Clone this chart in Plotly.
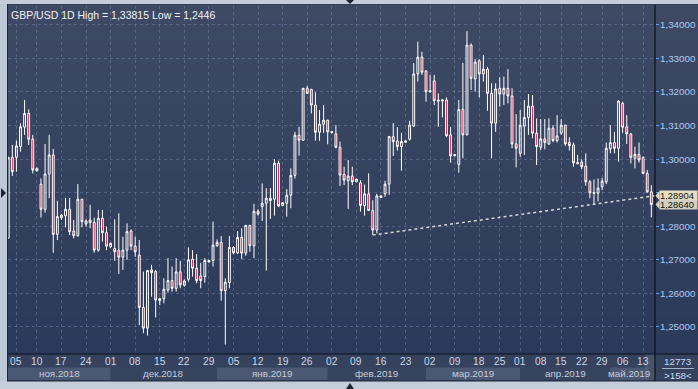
import plotly.graph_objects as go

# ---------------- data ----------------
opens = [1.2764, 1.3005, 1.3005, 1.3037, 1.3095, 1.3136, 1.3059, 1.2965, 1.2925, 1.2850,
         1.2955, 1.3012, 1.2775, 1.2825, 1.2830, 1.2850, 1.2785, 1.2771, 1.2880, 1.2806,
         1.2818, 1.2811, 1.2728, 1.2823, 1.2780, 1.2738, 1.2733, 1.2728, 1.2707, 1.2728,
         1.2785, 1.2740, 1.2713, 1.2557, 1.2495, 1.2669, 1.2664, 1.2577, 1.2583, 1.2609,
         1.2637, 1.2614, 1.2663, 1.2623, 1.2641, 1.2701, 1.2674, 1.2651, 1.2649, 1.2697,
         1.2697, 1.2741, 1.2751, 1.2607, 1.2631, 1.2736, 1.2720, 1.2766, 1.2719, 1.2802,
         1.2741, 1.2844, 1.2858, 1.2868, 1.2883, 1.2880, 1.2987, 1.2861, 1.2868, 1.2892,
         1.2951, 1.3071, 1.3056, 1.3211, 1.3208, 1.3161, 1.3080, 1.3104, 1.3116, 1.3082,
         1.3075, 1.3035, 1.2954, 1.2935, 1.2949, 1.2932, 1.2929, 1.2861, 1.2896, 1.2846,
         1.2788, 1.2885, 1.2896, 1.2925, 1.3067, 1.3054, 1.3037, 1.3050, 1.3059, 1.3098,
         1.3254, 1.3304, 1.3263, 1.3200, 1.3233, 1.3176, 1.3173, 1.3176, 1.3072, 1.3010,
         1.2984, 1.3148, 1.3072, 1.3340, 1.3239, 1.3293, 1.3254, 1.3268, 1.3196, 1.3107,
         1.3211, 1.3194, 1.3211, 1.3188, 1.3045, 1.3017, 1.3098, 1.3124, 1.3158, 1.3077,
         1.3035, 1.3060, 1.3045, 1.3092, 1.3055, 1.3077, 1.3101, 1.3049, 1.3042, 1.2986,
         1.2991, 1.2979, 1.2932, 1.2900, 1.2898, 1.2917, 1.2932, 1.3030, 1.3049, 1.3032,
         1.3166, 1.3096, 1.3075, 1.3002, 1.3014, 1.3005, 1.2957, 1.2902]
highs = [1.3007, 1.3042, 1.3055, 1.3107, 1.3176, 1.3148, 1.3072, 1.2975, 1.2942, 1.3045,
         1.3072, 1.3030, 1.2875, 1.2836, 1.2884, 1.2884, 1.2818, 1.2925, 1.2880, 1.2820,
         1.2863, 1.2825, 1.2848, 1.2848, 1.2798, 1.2751, 1.2820, 1.2838, 1.2768, 1.2808,
         1.2790, 1.2768, 1.2758, 1.2664, 1.2669, 1.2684, 1.2669, 1.2586, 1.2644, 1.2704,
         1.2679, 1.2704, 1.2696, 1.2641, 1.2736, 1.2728, 1.2716, 1.2690, 1.2704, 1.2699,
         1.2813, 1.2760, 1.2770, 1.2644, 1.2770, 1.2740, 1.2785, 1.2793, 1.2803, 1.2803,
         1.2866, 1.2850, 1.2927, 1.2913, 1.2913, 1.2999, 1.2995, 1.2871, 1.2910, 1.2972,
         1.3081, 1.3096, 1.3212, 1.3218, 1.3209, 1.3199, 1.3146, 1.3161, 1.3117, 1.3084,
         1.3101, 1.3052, 1.2977, 1.2997, 1.2977, 1.2941, 1.2937, 1.2924, 1.2957, 1.2877,
         1.2896, 1.2891, 1.2935, 1.3069, 1.3107, 1.3095, 1.3078, 1.3055, 1.3114, 1.3286,
         1.3350, 1.3320, 1.3264, 1.3251, 1.3251, 1.3196, 1.3179, 1.3184, 1.3096, 1.3015,
         1.3176, 1.3287, 1.33815, 1.3345, 1.3298, 1.3298, 1.3310, 1.3275, 1.3226, 1.3226,
         1.3244, 1.3246, 1.3268, 1.3211, 1.3134, 1.3146, 1.3176, 1.3194, 1.3191, 1.3121,
         1.3119, 1.3119, 1.3121, 1.3101, 1.3131, 1.3119, 1.3102, 1.3065, 1.3049, 1.3012,
         1.2999, 1.3017, 1.2937, 1.2939, 1.2942, 1.2944, 1.3049, 1.3101, 1.3081, 1.3176,
         1.3171, 1.3131, 1.3077, 1.3037, 1.3049, 1.3007, 1.2967, 1.2922]
lows = [1.2763, 1.2949, 1.2962, 1.3022, 1.3072, 1.3042, 1.2957, 1.2962, 1.2825, 1.2840,
        1.2883, 1.2720, 1.2758, 1.2818, 1.2796, 1.2773, 1.2763, 1.2768, 1.2796, 1.2798,
        1.2793, 1.2720, 1.2723, 1.2753, 1.2728, 1.2735, 1.2696, 1.2657, 1.2669, 1.2699,
        1.2728, 1.2708, 1.2504, 1.2480, 1.2473, 1.2589, 1.2527, 1.2564, 1.2569, 1.2601,
        1.2604, 1.2604, 1.2614, 1.2619, 1.2634, 1.2649, 1.2629, 1.2614, 1.2631, 1.2690,
        1.2679, 1.2738, 1.2577, 1.2446, 1.2614, 1.2716, 1.2716, 1.2701, 1.2711, 1.2723,
        1.2704, 1.2831, 1.2815, 1.2667, 1.2821, 1.2831, 1.2856, 1.2860, 1.2828, 1.2853,
        1.2942, 1.3010, 1.3055, 1.3194, 1.3136, 1.3055, 1.3054, 1.3078, 1.3044, 1.3076,
        1.3032, 1.2920, 1.2922, 1.2851, 1.2922, 1.2931, 1.2843, 1.2831, 1.2845, 1.2773,
        1.2778, 1.2884, 1.2887, 1.2893, 1.3009, 1.3025, 1.2965, 1.3049, 1.3055, 1.3096,
        1.3231, 1.3251, 1.3171, 1.3199, 1.3161, 1.3096, 1.3124, 1.3065, 1.2989, 1.3008,
        1.2959, 1.3002, 1.3071, 1.3206, 1.3201, 1.3184, 1.3231, 1.3144, 1.3002, 1.3081,
        1.3156, 1.3161, 1.3166, 1.3032, 1.2975, 1.3007, 1.3012, 1.3072, 1.3062, 1.2982,
        1.3027, 1.3029, 1.3042, 1.3050, 1.3049, 1.3072, 1.3039, 1.3025, 1.2977, 1.2984,
        1.2970, 1.2920, 1.2883, 1.2866, 1.2873, 1.2907, 1.2925, 1.3017, 1.3017, 1.2992,
        1.3078, 1.3045, 1.2987, 1.2972, 1.2989, 1.2955, 1.2899, 1.2826]
closes = [1.3004, 1.2962, 1.3039, 1.3096, 1.3136, 1.3059, 1.2967, 1.2972, 1.2850, 1.2955,
          1.3012, 1.2775, 1.2828, 1.2833, 1.2850, 1.2783, 1.2771, 1.2880, 1.2813, 1.2815,
          1.2810, 1.2728, 1.2823, 1.2780, 1.2740, 1.2748, 1.2723, 1.2707, 1.2728, 1.2783,
          1.2740, 1.2723, 1.2557, 1.2495, 1.2667, 1.2661, 1.2579, 1.2583, 1.2611, 1.2637,
          1.2614, 1.2663, 1.2624, 1.2636, 1.2699, 1.2674, 1.2637, 1.2637, 1.2697, 1.2693,
          1.2743, 1.2751, 1.2607, 1.2632, 1.2736, 1.2720, 1.2766, 1.2719, 1.2802, 1.2741,
          1.2844, 1.2836, 1.2868, 1.2883, 1.2876, 1.2987, 1.2860, 1.2870, 1.2892, 1.2951,
          1.3071, 1.3056, 1.3211, 1.3196, 1.3161, 1.3080, 1.3104, 1.3116, 1.3081, 1.3079,
          1.3035, 1.2952, 1.2937, 1.2949, 1.2932, 1.2940, 1.2861, 1.2896, 1.2846, 1.2788,
          1.2890, 1.2890, 1.2925, 1.3067, 1.3052, 1.3037, 1.3052, 1.3054, 1.3101, 1.3254,
          1.3304, 1.3259, 1.3201, 1.3204, 1.3174, 1.3173, 1.3176, 1.3069, 1.3009, 1.3013,
          1.3148, 1.3072, 1.3340, 1.3241, 1.3289, 1.3254, 1.3268, 1.3196, 1.3107, 1.3209,
          1.3194, 1.3211, 1.3188, 1.3045, 1.3032, 1.3101, 1.3124, 1.3158, 1.3077, 1.3037,
          1.3060, 1.3049, 1.3092, 1.3055, 1.3069, 1.3101, 1.3045, 1.3040, 1.2989, 1.2989,
          1.2977, 1.2932, 1.2899, 1.2897, 1.2913, 1.2934, 1.3032, 1.3049, 1.3032, 1.3173,
          1.3095, 1.3075, 1.3005, 1.3014, 1.2997, 1.2957, 1.2902, 1.2864]
bar_index = list(range(len(opens)))

price_ticks = [1.25, 1.26, 1.27, 1.28, 1.29, 1.30, 1.31, 1.32, 1.33, 1.34]
price_tick_labels = ["1,25000", "1,26000", "1,27000", "1,28000", "", "1,30000",
                     "1,31000", "1,32000", "1,33000", "1,34000"]

date_tick_idx = [2, 7, 13, 19, 25, 31, 37, 43, 49, 55, 61, 67, 73, 79, 85, 91, 97,
                 103, 109, 115, 120, 125, 130, 135, 140, 145, 150, 155]
date_tick_labels = ["05", "10", "17", "24", "01", "08", "15", "22", "29", "05", "12",
                    "19", "26", "02", "09", "16", "23", "02", "09", "18", "25", "01",
                    "08", "15", "22", "29", "06", "13"]

month_labels = ["ноя.2018", "дек.2018", "янв.2019", "фев.2019", "мар.2019", "апр.2019", "май.2019"]
month_start = [-0.05, 25, 51, 78, 102, 125, 147]
month_end = [25, 51, 78, 102, 125, 147, 156.3]

trend_x = [89, 157.9]
trend_y = [1.2773, 1.28904]
marker_values = [1.28904, 1.2864]
marker_labels = ["1,28904", "1,28640"]

title_text = "GBP/USD 1D High = 1,33815 Low = 1,2446"
info_texts = ["12773", ">158<"]

# ---------------- geometry helpers (layout only) ----------------
W, H = 698, 389
PL, PR, PT, PB = 8, 655, 6, 354          # plot area in pixels
X_RANGE = [-0.05, 157.9]
Y_RANGE = [1.24179, 1.34567]

def px_x(px):
    return (px - PL) / (PR - PL)

def px_y(py):
    return (PB - py) / (PB - PT)

price_per_px = (Y_RANGE[1] - Y_RANGE[0]) / (PB - PT)

FONT = "Liberation Sans, Arial, sans-serif"
FS = 9.8

fig = go.Figure()

fig.add_trace(go.Candlestick(
    x=bar_index, open=opens, high=highs, low=lows, close=closes,
    increasing=dict(line=dict(color="#ffffff", width=1), fillcolor="rgba(0,0,0,0)"),
    decreasing=dict(line=dict(color="#ffffff", width=1), fillcolor="#e0143f"),
    whiskerwidth=0, hoverinfo="skip", showlegend=False,
))

fig.add_trace(go.Scatter(
    x=trend_x, y=trend_y, mode="lines",
    line=dict(color="#d6d6d6", width=1.5, dash="dot"),
    hoverinfo="skip", showlegend=False,
))

shapes = []
# gradient background (plot + right panel)
n_bands = 48
top_c = (62, 74, 100)
bot_c = (43, 58, 90)
for i in range(n_bands):
    t = i / (n_bands - 1)
    c = tuple(int(round(top_c[k] + (bot_c[k] - top_c[k]) * t)) for k in range(3))
    y_hi = 1 - i / n_bands
    y_lo = 1 - (i + 1) / n_bands
    shapes.append(dict(type="rect", xref="paper", yref="paper", x0=0, x1=px_x(W),
                       y0=y_lo - 0.002, y1=y_hi + 0.002, line=dict(width=0),
                       fillcolor="rgb(%d,%d,%d)" % c, layer="below"))
# bottom axis area
shapes.append(dict(type="rect", xref="paper", yref="paper", x0=0, x1=px_x(W),
                   y0=px_y(381), y1=0, line=dict(width=0), fillcolor="#34425e", layer="below"))
# month bands (alternating)
for i, (s, e) in enumerate(zip(month_start, month_end)):
    col = "#4b5874" if i % 2 == 0 else "#36445f"
    shapes.append(dict(type="rect", xref="x", yref="paper", x0=s, x1=e,
                       y0=px_y(380), y1=px_y(367.5), line=dict(width=0),
                       fillcolor=col, layer="below"))
# shaded block at the right end of the date axis
shapes.append(dict(type="rect", xref="paper", yref="paper", x0=px_x(645), x1=px_x(655),
                   y0=px_y(380), y1=0, line=dict(width=0),
                   fillcolor="rgba(90,100,120,0.55)", layer="above"))
# frame: light strips
shapes.append(dict(type="rect", xref="paper", yref="paper", x0=px_x(0), x1=px_x(7),
                   y0=px_y(H), y1=px_y(0), line=dict(width=0), fillcolor="#bdc9d7", layer="above"))
shapes.append(dict(type="rect", xref="paper", yref="paper", x0=px_x(0), x1=px_x(W),
                   y0=px_y(4), y1=px_y(0), line=dict(width=0), fillcolor="#c4cedb", layer="above"))
shapes.append(dict(type="rect", xref="paper", yref="paper", x0=px_x(0), x1=px_x(W),
                   y0=px_y(H), y1=px_y(381), line=dict(width=0), fillcolor="#c4cedb", layer="above"))
# dark frame lines
shapes.append(dict(type="line", xref="paper", yref="paper", x0=px_x(7.5), x1=px_x(7.5),
                   y0=px_y(381), y1=px_y(4), line=dict(color="#1d2636", width=1), layer="above"))
shapes.append(dict(type="line", xref="paper", yref="paper", x0=px_x(7), x1=px_x(W),
                   y0=px_y(381), y1=px_y(381), line=dict(color="#1d2636", width=1), layer="above"))
shapes.append(dict(type="line", xref="paper", yref="paper", x0=px_x(8), x1=px_x(W),
                   y0=0, y1=0, line=dict(color="#0c121c", width=1.2), layer="above"))
shapes.append(dict(type="line", xref="paper", yref="paper", x0=1, x1=1,
                   y0=px_y(381), y1=px_y(5), line=dict(color="#0c121c", width=1.2), layer="above"))
# info box separator
shapes.append(dict(type="line", xref="paper", yref="paper", x0=px_x(662), x1=px_x(694),
                   y0=px_y(368.5), y1=px_y(368.5), line=dict(color="#9fb3cf", width=1), layer="above"))
# UI triangles
def tri(points):
    return "M " + " L ".join("%f,%f" % (px_x(a), px_y(b)) for a, b in points) + " Z"
shapes.append(dict(type="path", xref="paper", yref="paper", path=tri([(1, 188), (6, 193), (1, 198)]),
                   fillcolor="#1a2232", line=dict(width=0), layer="above"))
shapes.append(dict(type="path", xref="paper", yref="paper", path=tri([(346, 0), (354, 0), (350, 4)]),
                   fillcolor="#1a2232", line=dict(width=0), layer="above"))
shapes.append(dict(type="path", xref="paper", yref="paper", path=tri([(346, 389), (354, 389), (350, 383)]),
                   fillcolor="#1a2232", line=dict(width=0), layer="above"))
# price marker arrows
marker_cols = ["#e6e0c2", "#d2d0c0"]
for v, col in zip(marker_values, marker_cols):
    d = 4.5 * price_per_px
    shapes.append(dict(type="path", xref="paper", yref="y",
                       path="M %f,%f L %f,%f L %f,%f Z" % (px_x(655.5), v, px_x(659.5), v + d, px_x(659.5), v - d),
                       fillcolor=col, line=dict(width=0), layer="above"))

annotations = []
annotations.append(dict(text=title_text, xref="paper", yref="paper", x=px_x(9), y=px_y(14.5),
                        xanchor="left", yanchor="middle", showarrow=False,
                        font=dict(family=FONT, size=10.5, color="#eef1f6")))
for xi, lab in zip(date_tick_idx, date_tick_labels):
    annotations.append(dict(text=lab, xref="x", yref="paper", x=xi, y=px_y(361.5),
                            xanchor="center", yanchor="middle", showarrow=False,
                            font=dict(family=FONT, size=10.2, color="#cdd6e4")))
for s, e, lab in zip(month_start, month_end, month_labels):
    annotations.append(dict(text=lab, xref="x", yref="paper", x=(s + e) / 2, y=px_y(373.5),
                            xanchor="center", yanchor="middle", showarrow=False,
                            font=dict(family=FONT, size=FS, color="#c3ccda")))
# right price-axis labels
for v, lab in zip(price_ticks, price_tick_labels):
    if lab:
        annotations.append(dict(text=lab, xref="paper", yref="y", x=px_x(658), y=v,
                                xanchor="left", yanchor="middle", showarrow=False,
                                font=dict(family=FONT, size=FS, color="#aecbf0")))
for v, lab, col in zip(marker_values, marker_labels, marker_cols):
    annotations.append(dict(text=lab, xref="paper", yref="y", x=px_x(659.5), y=v,
                            xanchor="left", yanchor="middle", showarrow=False,
                            bgcolor=col, borderpad=0, width=37, height=9, align="left",
                            font=dict(family=FONT, size=9.4, color="#111111")))
for ty, txt in zip([361.5, 375.5], info_texts):
    annotations.append(dict(text=txt, xref="paper", yref="paper", x=px_x(677.5), y=px_y(ty),
                            xanchor="center", yanchor="middle", showarrow=False,
                            font=dict(family=FONT, size=FS, color="#c9d8ee")))

fig.update_layout(
    width=W, height=H, autosize=False,
    margin=dict(l=PL, r=W - PR, t=PT, b=H - PB, pad=0),
    paper_bgcolor="#34425e", plot_bgcolor="rgba(0,0,0,0)",
    boxgap=0.35,
    shapes=shapes, annotations=annotations,
    xaxis=dict(range=X_RANGE, tickvals=date_tick_idx, showticklabels=False, ticks="",
               showgrid=True, gridcolor="rgba(125,140,170,0.45)", griddash="3px,3px", gridwidth=1,
               zeroline=False, showline=False, rangeslider=dict(visible=False), fixedrange=True),
    yaxis=dict(range=Y_RANGE, side="right", tickvals=price_ticks, ticktext=price_tick_labels,
               showticklabels=False,
               ticks="outside", ticklen=3, tickcolor="#5aa2f2", tickwidth=1,
               showgrid=True, gridcolor="rgba(125,140,170,0.45)", griddash="3px,3px", gridwidth=1,
               zeroline=False, showline=False, fixedrange=True),
    showlegend=False,
)

fig.write_html(
    "out.html",
    config={"displayModeBar": False, "staticPlot": True},
    post_script="document.body.style.margin='0';document.body.style.overflow='hidden';",
)
